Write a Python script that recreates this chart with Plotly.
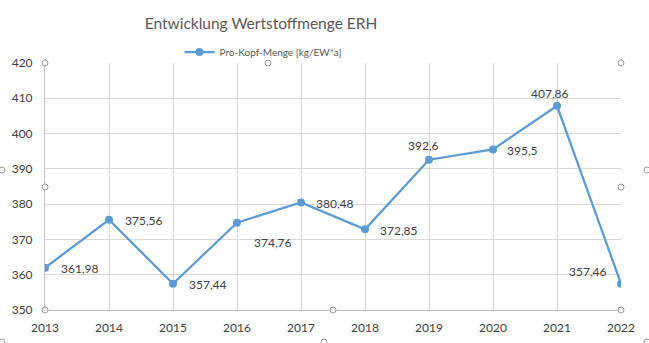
import plotly.graph_objects as go

years = [2013, 2014, 2015, 2016, 2017, 2018, 2019, 2020, 2021, 2022]
values = [361.98, 375.56, 357.44, 374.76, 380.48, 372.85, 392.6, 395.5, 407.86, 357.46]
labels = ["361,98", "375,56", "357,44", "374,76", "380,48", "372,85", "392,6", "395,5", "407,86", "357,46"]
# label placement (style): anchor, xshift, yshift
label_pos = [("left", 14, -1), ("left", 14, -1), ("left", 14, -1), ("left", 15, -20),
             ("left", 13, -1), ("left", 13, -1), ("center", -6, 14), ("left", 12, -1),
             ("center", -7, 12), ("right", -12, 12)]

W, H = 649, 343
L, R, T, B = 45, 28, 63, 33
PW, PH = W - L - R, H - T - B

LINE = "#5B9BD5"
FONT = "Lato, Open Sans, sans-serif"

fig = go.Figure()
fig.add_trace(go.Scatter(
    x=years, y=values, mode="lines+markers",
    name="Pro-Kopf-Menge [kg/EW*a]",
    line=dict(color=LINE, width=2.25),
    marker=dict(color=LINE, size=8),
))

annotations = []
for x, y, t, (anc, dx, dy) in zip(years, values, labels, label_pos):
    annotations.append(dict(x=x, y=y, xref="x", yref="y", text=t, showarrow=False,
                            xanchor=anc, yanchor="middle", xshift=dx, yshift=dy,
                            font=dict(family=FONT, size=12, color="#404040")))
fig.update_layout(annotations=annotations)

# selection handles (decorative, pixel positions of Excel chart handles)
handles = [(45, 63), (268, 63), (621, 63), (45, 187), (621, 187), (45, 310), (333, 310), (621, 310),
           (2, 170), (647, 170), (2, 342), (324, 342), (647, 342)]
shapes = []
for px, py in handles:
    xp = (px - L) / PW
    yp = (H - B - py) / PH
    shapes.append(dict(type="circle", xref="paper", yref="paper", xsizemode="pixel", ysizemode="pixel",
                       xanchor=xp, yanchor=yp, x0=-3, x1=3, y0=-3, y1=3,
                       line=dict(color="#9a9a9a", width=1), fillcolor="white", layer="above"))
fig.update_layout(shapes=shapes)

fig.update_layout(
    width=W, height=H,
    margin=dict(l=L, r=R, t=T, b=B, pad=0, autoexpand=False),
    paper_bgcolor="white", plot_bgcolor="white",
    title=dict(text="Entwicklung Wertstoffmenge ERH", x=(261) / W, xanchor="center",
               y=1 - 24 / H, yanchor="middle",
               font=dict(family=FONT, size=15.5, color="#595959")),
    showlegend=True,
    legend=dict(orientation="h", x=(263 - L) / PW, xanchor="center", y=(H - B - 52) / PH, yanchor="middle",
                font=dict(family=FONT, size=10, color="#595959"), bgcolor="rgba(0,0,0,0)"),
    xaxis=dict(range=[2013, 2022], tickvals=years, ticktext=[str(y) for y in years],
               showgrid=True, gridcolor="#d9d9d9", gridwidth=1, automargin=False,
               showline=True, linecolor="#bfbfbf", linewidth=1, ticks="", zeroline=False,
               tickfont=dict(family=FONT, size=12, color="#404040"), ticklabelstandoff=7),
    yaxis=dict(range=[350, 420], dtick=10, tick0=350,
               showgrid=True, gridcolor="#d9d9d9", gridwidth=1, automargin=False,
               showline=True, linecolor="#bfbfbf", linewidth=1, ticks="", zeroline=False,
               tickfont=dict(family=FONT, size=12, color="#404040"), ticklabelstandoff=9),
)

fig.write_html("out.html")
